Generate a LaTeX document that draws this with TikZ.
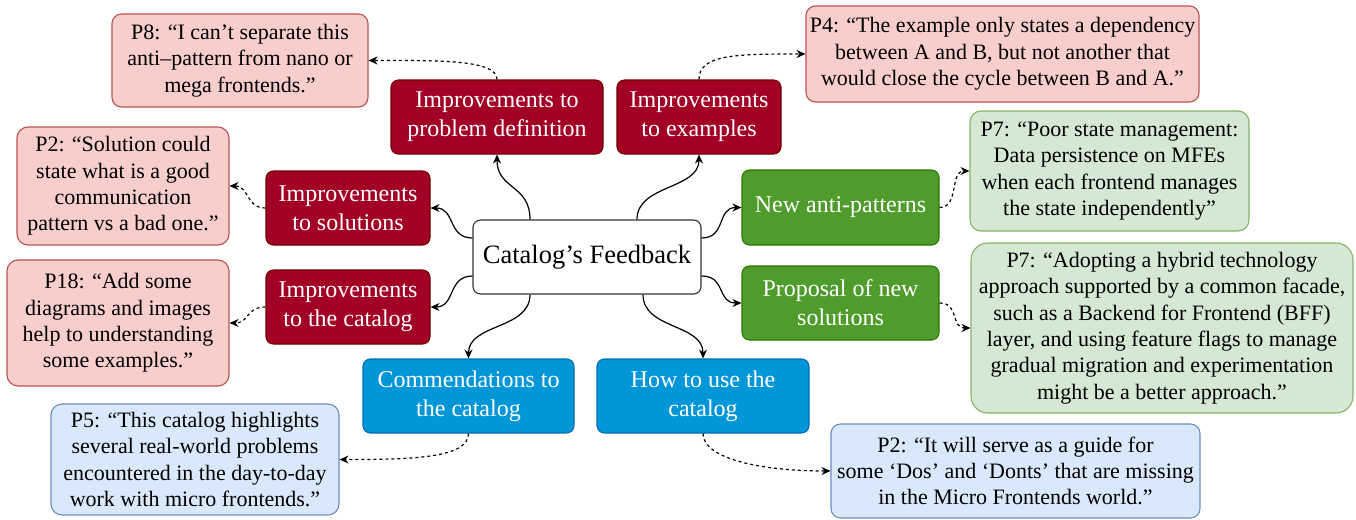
\documentclass[tikz,border=0pt]{standalone}
\usepackage{fontspec}
\setmainfont{Liberation Serif}
\usetikzlibrary{arrows.meta}
\definecolor{dred}{HTML}{A20025}
\definecolor{dredline}{HTML}{6F0000}
\definecolor{dgreen}{HTML}{4F9C2C}
\definecolor{dgreenline}{HTML}{2D7600}
\definecolor{dblue}{HTML}{0096D8}
\definecolor{dblueline}{HTML}{006EAF}
\definecolor{lred}{HTML}{F8CECC}
\definecolor{lredline}{HTML}{B85450}
\definecolor{lgreen}{HTML}{D5E8D4}
\definecolor{lgreenline}{HTML}{82B366}
\definecolor{lblue}{HTML}{DAE8FC}
\definecolor{lblueline}{HTML}{6C8EBF}
\tikzset{
  basebox/.style={rounded corners=7.5pt, line width=1.1pt, align=center, inner sep=0pt},
  catbox/.style={basebox, text=white, font=\fontsize{24}{28.8}\selectfont},
  redcat/.style={catbox, fill=dred, draw=dredline},
  greencat/.style={catbox, fill=dgreen, draw=dgreenline},
  bluecat/.style={catbox, fill=dblue, draw=dblueline},
  quotebox/.style={basebox, rounded corners=11pt, font=\fontsize{22}{26.4}\selectfont},
  redq/.style={quotebox, fill=lred, draw=lredline},
  greenq/.style={quotebox, fill=lgreen, draw=lgreenline},
  blueq/.style={quotebox, fill=lblue, draw=lblueline},
  centerbox/.style={basebox, fill=white, draw=black!80, font=\fontsize{26.5}{31}\selectfont},
  conn/.style={line width=1.2pt, -{Stealth[length=9pt,width=8pt,inset=3pt]}},
  dconn/.style={conn, dash pattern=on 3pt off 3pt},
}
\begin{document}
\begin{tikzpicture}[x=1pt,y=-1pt]
\useasboundingbox (0,0) rectangle (1356,519);

% category boxes
\node[centerbox, minimum width=228pt, minimum height=74pt] (cf) at (587,257) {Catalog’s Feedback};
\node[redcat, minimum width=212pt, minimum height=74pt] (pd) at (497,117) {Improvements to\\problem definition};
\node[redcat, minimum width=164pt, minimum height=74pt] (ex) at (699,117) {Improvements\\to examples};
\node[redcat, minimum width=164pt, minimum height=74pt] (is) at (348,208) {Improvements\\to solutions};
\node[redcat, minimum width=164pt, minimum height=74pt] (ic) at (348,307) {Improvements\\to the catalog};
\node[greencat, minimum width=197pt, minimum height=75pt] (na) at (840.5,207.5) {New anti-patterns};
\node[greencat, minimum width=197pt, minimum height=74pt] (pn) at (840.5,303) {Proposal of new\\solutions};
\node[bluecat, minimum width=211pt, minimum height=74pt] (cm) at (468.5,396) {Commendations to\\the catalog};
\node[bluecat, minimum width=212pt, minimum height=74pt] (hu) at (703,396) {How to use the\\catalog};

% quote boxes
\node[redq, rounded corners=9.5pt, minimum width=256pt, minimum height=93pt] (p8) at (240,60.5) {P8: “I can’t separate this\\anti–pattern from nano or\\mega frontends.”};
\node[redq, rounded corners=9.5pt, minimum width=393pt, minimum height=96pt] (p4) at (1002.5,54) {P4: “The example only states a dependency\\between A and B, but not another that\\would close the cycle between B and A.”};
\node[redq, minimum width=212pt, minimum height=118pt] (p2) at (123,186) {P2: “Solution could\\state what is a good\\communication\\pattern vs a bad one.”};
\node[redq, minimum width=222pt, minimum height=126pt] (p18) at (118,323) {P18: “Add some\\diagrams and images\\help to understanding\\some examples.”};
\node[greenq, minimum width=279pt, minimum height=120pt] (p7a) at (1109.5,171) {P7: “Poor state management:\\Data persistence on MFEs\\when each frontend manages\\the state independently”};
\node[greenq, rounded corners=17pt, minimum width=382pt, minimum height=170pt] (p7b) at (1162,328) {P7: “Adopting a hybrid technology\\approach supported by a common facade,\\such as a Backend for Frontend (BFF)\\layer, and using feature flags to manage\\gradual migration and experimentation\\might be a better approach.”};
\node[blueq, minimum width=288pt, minimum height=111pt] (p5) at (195,459.5) {P5: “This catalog highlights\\several real-world problems\\encountered in the day-to-day\\work with micro frontends.”};
\node[blueq, rounded corners=9.5pt, minimum width=369pt, minimum height=94pt] (p2b) at (1015.5,471) {P2: “It will serve as a guide for\\some ‘Dos’ and ‘Donts’ that are missing\\in the Micro Frontends world.”};

% solid connectors
\draw[conn] ([xshift=-57pt]cf.north) .. controls +(0,-35) and +(0,35) .. (pd.south);
\draw[conn] ([xshift=50pt]cf.north) .. controls +(0,-35) and +(0,35) .. (ex.south);
\draw[conn] ([yshift=19pt]cf.west) .. controls +(-25,0) and +(25,0) .. (is.east);
\draw[conn] ([yshift=-19pt]cf.west) .. controls +(-25,0) and +(25,0) .. (ic.east);
\draw[conn] ([yshift=19pt]cf.east) .. controls +(25,0) and +(-25,0) .. (na.west);
\draw[conn] ([yshift=-19pt]cf.east) .. controls +(25,0) and +(-25,0) .. (pn.west);
\draw[conn] ([xshift=-57pt]cf.south) .. controls +(0,35) and +(0,-35) .. (cm.north);
\draw[conn] ([xshift=56pt]cf.south) .. controls +(0,35) and +(0,-35) .. (hu.north);

% dashed connectors
\draw[dconn] (pd.north) .. controls +(0,-20) and +(70,0) .. (p8.east);
\draw[dconn] (ex.north) .. controls +(0,-25) and +(-70,0) .. (p4.west);
\draw[dconn] (is.west) .. controls +(-20,0) and +(20,0) .. (p2.east);
\draw[dconn] (ic.west) .. controls +(-20,0) and +(20,0) .. (p18.east);
\draw[dconn] (na.east) .. controls +(20,0) and +(-20,0) .. (p7a.west);
\draw[dconn] (pn.east) .. controls +(20,0) and +(-20,0) .. (p7b.west);
\draw[dconn] (cm.south) .. controls +(0,25) and +(70,0) .. (p5.east);
\draw[dconn] (hu.south) .. controls +(0,25) and +(-70,0) .. (p2b.west);
\end{tikzpicture}
\end{document}
